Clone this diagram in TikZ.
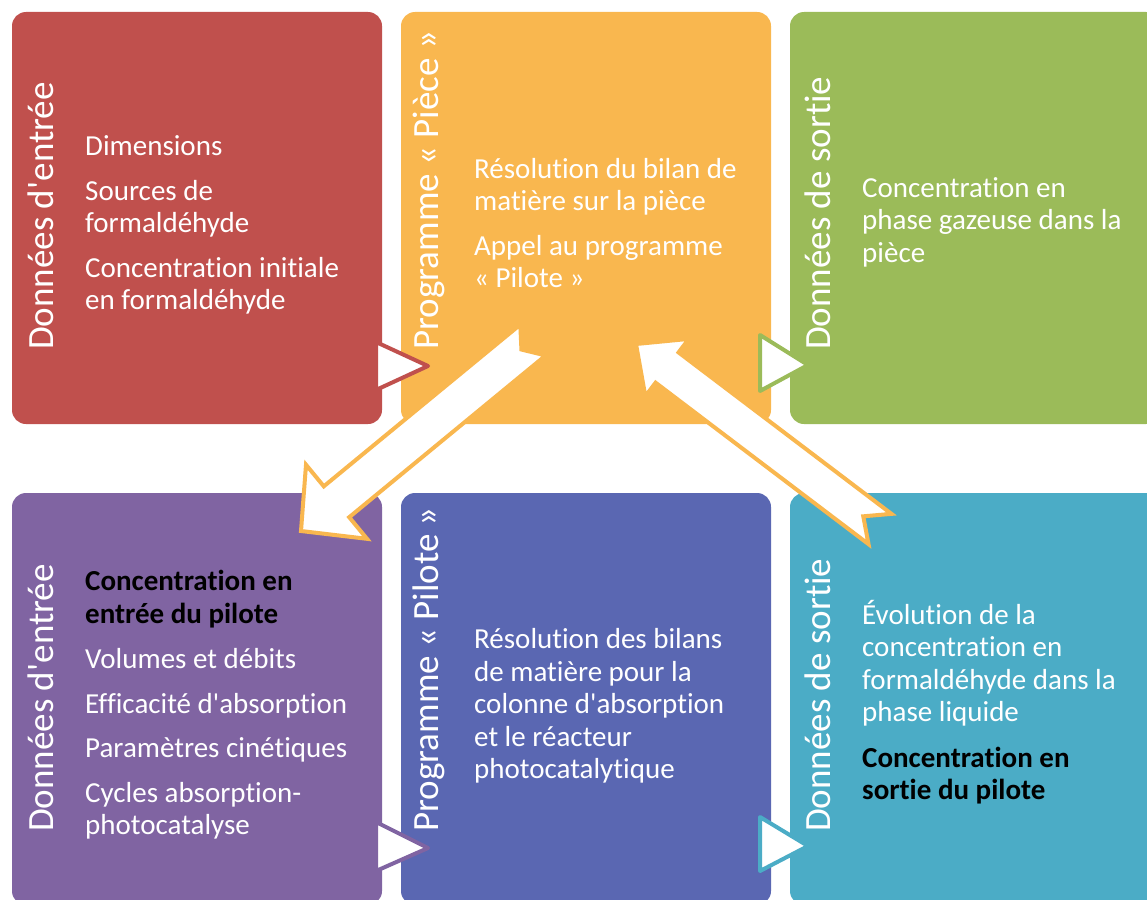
\documentclass[tikz,border=0pt]{standalone}
\usepackage{fontspec}
\setmainfont{Carlito}[Ligatures={NoCommon}]
\usetikzlibrary{calc}

\definecolor{roomin}{HTML}{C0504D}
\definecolor{roomprog}{HTML}{F9B74F}
\definecolor{roomout}{HTML}{9BBB59}
\definecolor{pilotin}{HTML}{8064A2}
\definecolor{pilotprog}{HTML}{5A67B2}
\definecolor{pilotout}{HTML}{4BACC6}

\newcommand{\keytext}[1]{\textcolor{black}{\bfseries #1}}
\newcommand{\apos}{\textquotesingle}
% notched block arrow: name, tail, tip, shaft half width, head half width, head length, notch depth
\newcommand{\notchedarrow}[7]{%
  \coordinate (#1-base) at ($(#3)!#6!(#2)$);
  \draw[bigarrow] ($(#2)!#4!90:(#3)$) -- ($(#1-base)!#4!90:(#3)$) -- ($(#1-base)!#5!90:(#3)$)
    -- (#3) -- ($(#1-base)!#5!-90:(#3)$) -- ($(#1-base)!#4!-90:(#3)$)
    -- ($(#2)!#4!-90:(#3)$) -- ($(#2)!#7!(#3)$) -- cycle;
}

\begin{document}
\begin{tikzpicture}[
    x=1pt, y=-1pt,
    box/.style={rounded corners=14pt, minimum width=370pt, minimum height=412pt, inner sep=0pt},
    sidetitle/.style={rotate=90, anchor=west, inner sep=0pt, text=white, font={\fontsize{37}{40}\selectfont}},
    boxtext/.style={anchor=west, align=left, inner sep=0pt, text=white, font={\fontsize{29}{32.5}\selectfont}},
    tipmark/.style={line width=4pt, line join=round, fill=white},
    bigarrow/.style={line width=4pt, draw=roomprog, fill=white, line join=miter},
]
    \useasboundingbox (0,0) rectangle (1147,899);

    % Top row: the room
    \node[box, fill=roomin] (inRoom) at (197,218) {};
    \node[box, fill=roomprog] (progRoom) at (586,218) {};
    \node[box, fill=roomout] (outRoom) at (975,218) {};

    \node[sidetitle] (inRoomT) at (41,350) {Données d\apos entrée};
    \node[sidetitle] (progRoomT) at (429,350) {Programme « Pièce »};
    \node[sidetitle] (outRoomT) at (818,350) {Données de sortie};

    \node[boxtext] (inRoomB) at (85,225) {Dimensions\\[12pt]Sources de\\formaldéhyde\\[12pt]Concentration initiale\\en formaldéhyde};
    \node[boxtext] (progRoomB) at (474,223) {Résolution du bilan de\\matière sur la pièce\\[12pt]Appel au programme\\« Pilote »};
    \node[boxtext] (outRoomB) at (862,222) {Concentration en\\phase gazeuse dans la\\pièce};

    % Bottom row: the pilot
    \node[box, fill=pilotin] (inPilot) at (197,699) {};
    \node[box, fill=pilotprog] (progPilot) at (586,699) {};
    \node[box, fill=pilotout] (outPilot) at (975,699) {};

    \node[sidetitle] (inPilotT) at (41,832) {Données d\apos entrée};
    \node[sidetitle] (progPilotT) at (429,832) {Programme « Pilote »};
    \node[sidetitle] (outPilotT) at (818,832) {Données de sortie};

    \node[boxtext] (inPilotB) at (85,705) {\keytext{Concentration en}\\\keytext{entrée du pilote}\\[13pt]Volumes et débits\\[12pt]Efficacité d\apos absorption\\[12pt]Paramètres cinétiques\\[12pt]Cycles absorption-\\photocatalyse};
    \node[boxtext] (progPilotB) at (474,706) {Résolution des bilans\\de matière pour la\\colonne d\apos absorption\\et le réacteur\\photocatalytique};
    \node[boxtext] (outPilotB) at (862,702) {Évolution de la\\concentration en\\formaldéhyde dans la\\phase liquide\\[13pt]\keytext{Concentration en}\\\keytext{sortie du pilote}};

    % small flow marks between the columns
    \draw[tipmark, draw=roomin] (376,342) -- (428,366) -- (376,390) -- cycle;
    \draw[tipmark, draw=roomout] (760,335) -- (808,365) -- (760,391) -- cycle;
    \draw[tipmark, draw=pilotin] (376,822) -- (428,848) -- (376,871) -- cycle;
    \draw[tipmark, draw=pilotout] (760,817) -- (808,846) -- (760,871) -- cycle;

    % Big arrows: room <-> pilot
    \coordinate (pieceOut) at (533,340);
    \coordinate (piloteIn) at (301,531);
    \coordinate (piloteOut) at (880,529);
    \coordinate (pieceIn) at (636,344);
    \notchedarrow{down}{pieceOut}{piloteIn}{20pt}{48pt}{46pt}{15pt}
    \notchedarrow{up}{piloteOut}{pieceIn}{19pt}{36pt}{39pt}{21pt}
\end{tikzpicture}
\end{document}
